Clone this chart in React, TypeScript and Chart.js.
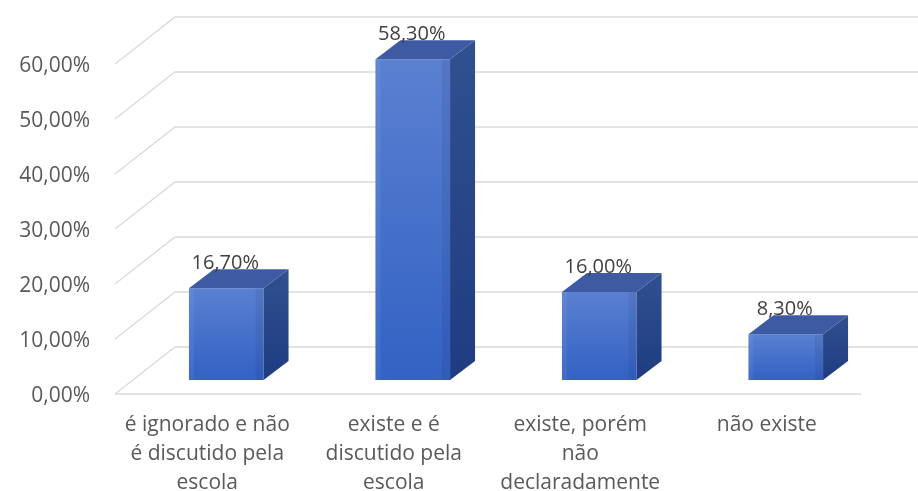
import React, { useEffect, useRef } from 'react';
import { Chart, registerables } from 'chart.js';

Chart.register(...registerables);

const categories: string[][] = [
  ['é ignorado e não', 'é discutido pela', 'escola'],
  ['existe e é', 'discutido pela', 'escola'],
  ['existe, porém', 'não', 'declaradamente'],
  ['não existe'],
];
const values: number[] = [16.7, 58.3, 16.0, 8.3];
const yTicks: number[] = [0, 10, 20, 30, 40, 50, 60];

// 3D offsets (style)
const DX = 25, DY = -19; // bar depth
const FX = -18, FY = 14; // front floor plane relative to bar plane
const BX = 42, BY = -33; // back wall relative to bar plane

const fmt = (v: number) => v.toFixed(2).replace('.', ',') + '%';
const FONT = '"Open Sans", "Liberation Sans", sans-serif';

const threeD = {
  id: 'threeD',
  beforeDatasetsDraw(chart: any) {
    const { ctx, chartArea: a, scales } = chart;
    const y = scales.y;
    ctx.save();
    ctx.strokeStyle = '#dadada';
    ctx.lineWidth = 1.3;
    for (const v of yTicks) {
      const py = y.getPixelForValue(v);
      ctx.beginPath();
      ctx.moveTo(a.left + FX, py + FY);
      ctx.lineTo(a.left + BX, py + BY);
      ctx.lineTo(a.right + BX, py + BY);
      ctx.stroke();
    }
    const p0 = y.getPixelForValue(0);
    ctx.beginPath();
    ctx.moveTo(a.left + FX, p0 + FY);
    ctx.lineTo(a.right + FX, p0 + FY);
    ctx.stroke();
    ctx.restore();
  },
  afterDatasetsDraw(chart: any) {
    const { ctx } = chart;
    const meta = chart.getDatasetMeta(0);
    ctx.save();
    meta.data.forEach((el: any, i: number) => {
      const { x, y, base, width } = el.getProps(['x', 'y', 'base', 'width'], true);
      const l = x - width / 2;
      const r = x + width / 2;
      ctx.fillStyle = 'rgba(255,255,255,0.06)';
      ctx.fillRect(l, y, 5, base - y);
      ctx.fillStyle = 'rgba(0,0,40,0.07)';
      ctx.fillRect(r - 8, y, 8, base - y);
      // side face
      const sg = ctx.createLinearGradient(0, y + DY, 0, base);
      sg.addColorStop(0, '#30508f');
      sg.addColorStop(1, '#1f3c82');
      ctx.fillStyle = sg;
      ctx.beginPath();
      ctx.moveTo(r, y);
      ctx.lineTo(r + DX, y + DY);
      ctx.lineTo(r + DX, base + DY);
      ctx.lineTo(r, base);
      ctx.closePath();
      ctx.fill();
      // top face
      ctx.fillStyle = '#3d5aa2';
      ctx.beginPath();
      ctx.moveTo(l, y);
      ctx.lineTo(l + DX, y + DY);
      ctx.lineTo(r + DX, y + DY);
      ctx.lineTo(r, y);
      ctx.closePath();
      ctx.fill();
      // data label
      ctx.fillStyle = '#404040';
      ctx.font = `20px ${FONT}`;
      ctx.textAlign = 'center';
      ctx.textBaseline = 'middle';
      ctx.fillText(fmt(values[i]), x - 1, y - 25);
    });
    ctx.restore();
  },
};

export default function App() {
  const ref = useRef<HTMLCanvasElement | null>(null);
  useEffect(() => {
    if (!ref.current) return;
    const chart = new Chart(ref.current, {
      type: 'bar',
      data: {
        labels: categories,
        datasets: [
          {
            data: values,
            backgroundColor: (c: any) => {
              const chart = c.chart;
              const area = chart.chartArea;
              if (!area || c.raw === undefined) return '#4a72cc';
              const ys = chart.scales.y;
              const top = ys.getPixelForValue(c.raw);
              const bot = ys.getPixelForValue(0);
              const g = chart.ctx.createLinearGradient(0, top, 0, bot);
              g.addColorStop(0, '#5a80d0');
              g.addColorStop(1, '#3362c4');
              return g;
            },
            borderWidth: 0,
            barPercentage: 0.8,
            categoryPercentage: 0.5,
          },
        ],
      },
      options: {
        animation: false,
        responsive: true,
        maintainAspectRatio: false,
        layout: { padding: { top: 50, right: 39, left: 0, bottom: 0 } },
        plugins: { legend: { display: false }, tooltip: { enabled: false } },
        scales: {
          x: {
            grid: { display: false, drawTicks: false },
            border: { display: false },
            ticks: {
              color: '#595959',
              font: { family: FONT, size: 21, lineHeight: 1.4 },
              padding: 30,
              labelOffset: -19,
              maxRotation: 0,
              autoSkip: false,
            },
            afterFit: (s: any) => {
              s.height = 111;
            },
          },
          y: {
            min: 0,
            max: 60,
            grid: { display: false, drawTicks: false },
            border: { display: false },
            ticks: {
              stepSize: 10,
              color: '#595959',
              font: { family: FONT, size: 21 },
              padding: 43,
              labelOffset: 16,
              callback: (v: any) => fmt(Number(v)),
            },
            afterFit: (s: any) => {
              s.width = 133;
              s.paddingTop = 0;
              s.paddingBottom = 0;
            },
          },
        },
      },
      plugins: [threeD],
    });
    return () => chart.destroy();
  }, []);
  return (
    <div style={{ position: 'fixed', left: 0, top: 0, width: 918, height: 491, background: '#fff' }}>
      <canvas ref={ref} />
    </div>
  );
}
